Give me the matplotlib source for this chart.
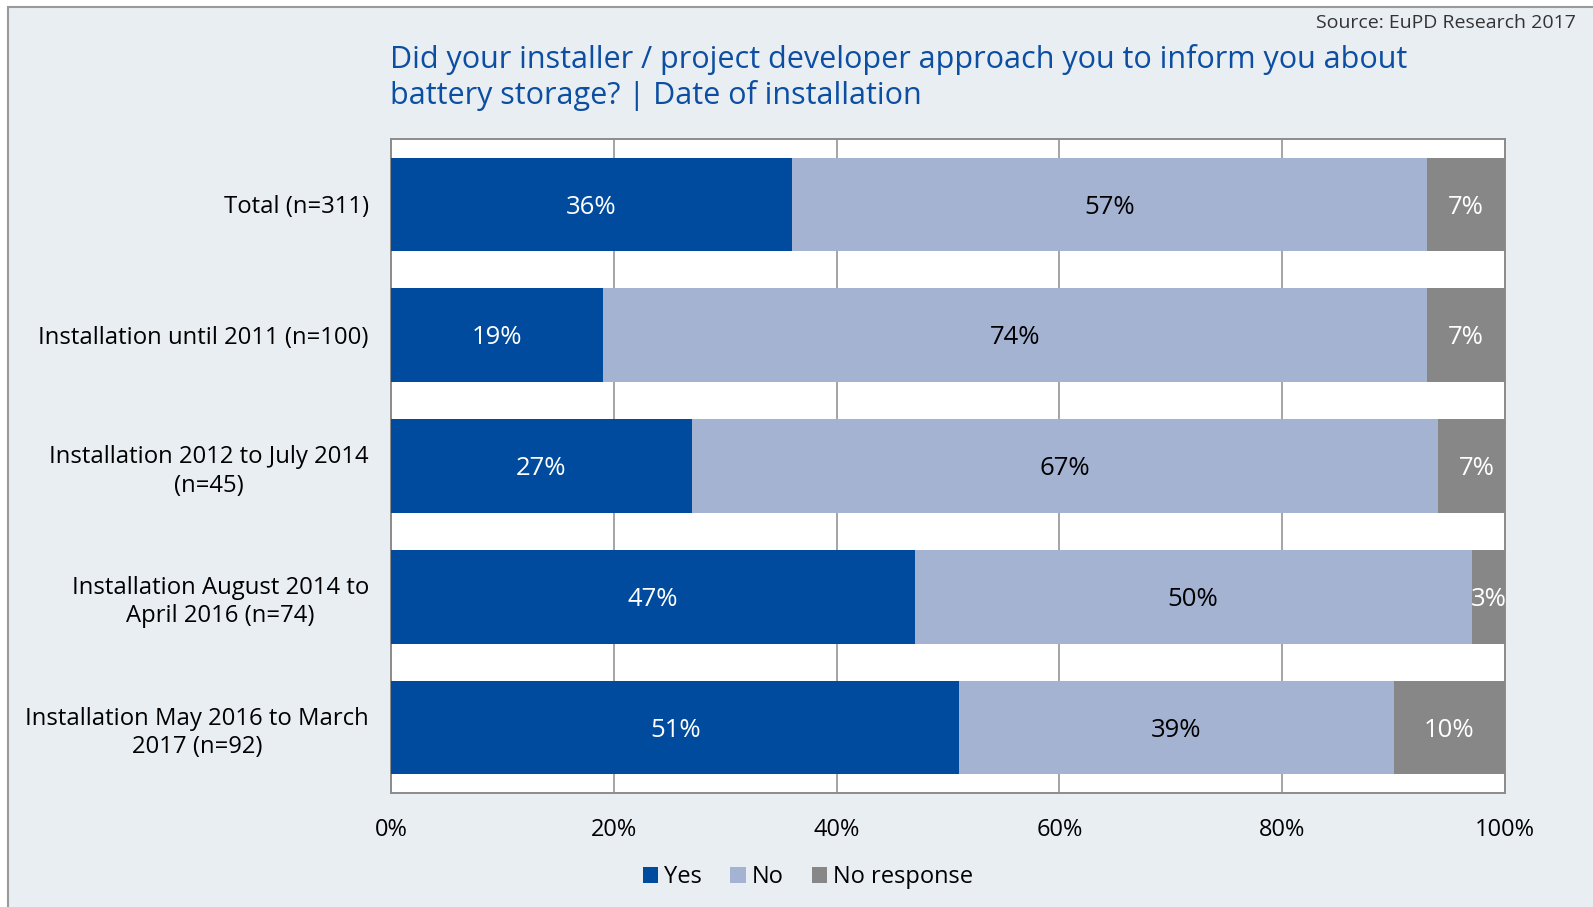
import numpy as np
import matplotlib
matplotlib.use("Agg")
import matplotlib.pyplot as plt
from matplotlib.patches import Rectangle

plt.rcParams["font.family"] = ["Open Sans", "DejaVu Sans"]

categories = [
    "Total (n=311)",
    "Installation until 2011 (n=100)",
    "Installation 2012 to July 2014\n(n=45)",
    "Installation August 2014 to\nApril 2016 (n=74)",
    "Installation May 2016 to March\n2017 (n=92)",
]
yes = [36, 19, 27, 47, 51]
no = [57, 74, 67, 50, 39]
no_response = [7, 7, 7, 3, 10]

series = [
    ("Yes", yes, "#004B9E", "white"),
    ("No", no, "#A5B3D3", "black"),
    ("No response", no_response, "#878787", "white"),
]

BG = "#E9EEF3"
TITLE_BLUE = "#0B4EA2"

fig = plt.figure(figsize=(15.93, 9.07), dpi=100)
fig.patch.set_facecolor("white")
# light panel with a thin gray border on the left and top
fig.patches.append(Rectangle((8 / 1593, -0.1), 1.2, 1.1 - 7 / 907,
                             transform=fig.transFigure, facecolor=BG,
                             edgecolor="#9A9A9A", linewidth=1.5, zorder=-10))

ax = fig.add_axes([0.2455, 0.1257, 0.6993, 0.7210])
ax.set_facecolor("white")

y = np.arange(len(categories))
left = np.zeros(len(categories))
for name, vals, color, txt in series:
    vals = np.asarray(vals, dtype=float)
    ax.barh(y, vals, left=left, height=0.715, color=color, label=name,
            zorder=3, linewidth=0)
    for yi, l, v in zip(y, left, vals):
        ax.text(l + v / 2, yi + 0.02, f"{int(v)}%", ha="center", va="center",
                color=txt, fontsize=18.5, zorder=4, clip_on=False)
    left += vals

ax.set_xlim(0, 100)
ax.set_ylim(len(categories) - 0.5, -0.5)
ax.set_xticks([0, 20, 40, 60, 80, 100])
ax.set_xticklabels([f"{t}%" for t in [0, 20, 40, 60, 80, 100]], fontsize=17)
ax.set_yticks(y)
ax.set_yticklabels(categories, fontsize=17.2, linespacing=1.25,
                   multialignment="center")
ax.tick_params(axis="both", length=0, colors="black")
ax.tick_params(axis="x", pad=18)
ax.tick_params(axis="y", pad=16)
ax.xaxis.grid(True, color="#8C8C8C", linewidth=1.1, zorder=1)
ax.set_axisbelow(True)
for spine in ax.spines.values():
    spine.set_color("#8C8C8C")
    spine.set_linewidth(1.4)

fig.text(390 / 1593, 1 - 44 / 907,
         "Did your installer / project developer approach you to inform you about\n"
         "battery storage? | Date of installation",
         ha="left", va="top", color=TITLE_BLUE, fontsize=22, linespacing=1.2)
fig.text(1576 / 1593, 1 - 23 / 907, "Source: EuPD Research 2017",
         ha="right", va="center", color="#333333", fontsize=14)

fig.legend(loc="center", bbox_to_anchor=(808 / 1593, 1 - 877 / 907),
           ncol=3, frameon=False, fontsize=17, handlelength=0.65,
           handleheight=0.65, handletextpad=0.25, columnspacing=1.2)

fig.savefig("out.png", dpi=100, facecolor=fig.get_facecolor())
